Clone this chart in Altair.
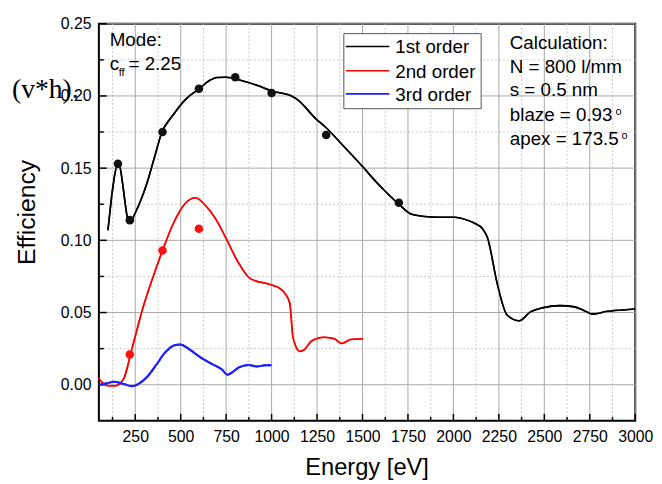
import altair as alt
import pandas as pd

FONT = "Liberation Sans"

# ---- data ----
energy_1st = [100, 157, 218, 250, 312, 357, 394, 457, 530, 602, 656, 700, 750, 838, 928, 1000,
              1109, 1137, 1245, 1300, 1390, 1508, 1571, 1625, 1700, 1770, 1843, 1915, 2006, 2076,
              2114, 2160, 2187, 2241, 2295, 2362, 2422, 2495, 2585, 2658, 2712, 2766, 2839, 2929, 3000]
eff_1st = [0.107, 0.153, 0.112, 0.119, 0.1386, 0.158, 0.174, 0.1866, 0.198, 0.205, 0.2105, 0.2128,
           0.213, 0.2105, 0.207, 0.2035, 0.200, 0.198, 0.184, 0.178, 0.166, 0.150, 0.141, 0.134,
           0.125, 0.118, 0.1165, 0.116, 0.116, 0.114, 0.112, 0.108, 0.102, 0.070, 0.0484, 0.0443,
           0.0503, 0.0534, 0.0548, 0.0541, 0.0518, 0.0489, 0.0507, 0.0518, 0.0525]

energy_2nd = [50, 68, 104, 141, 186, 231, 294, 367, 403, 457, 521, 580, 638, 693, 747, 811, 883,
              992, 1046, 1073, 1100, 1118, 1155, 1182, 1218, 1290, 1345, 1386, 1435, 1504]
eff_2nd = [0.0044, 0.0016, -0.0007, -0.0007, 0.004, 0.0245, 0.054, 0.0815, 0.094, 0.111, 0.125,
           0.1295, 0.124, 0.1147, 0.102, 0.086, 0.0735, 0.0694, 0.0667, 0.0633, 0.0564, 0.0325,
           0.0231, 0.0245, 0.0301, 0.0329, 0.0318, 0.0286, 0.0313, 0.0318]

energy_3rd = [50, 95, 131, 186, 231, 267, 312, 367, 412, 466, 497, 548, 611, 675, 729, 756, 783,
              820, 874, 919, 965, 1000]
eff_3rd = [0.0, 0.001, 0.002, 0.0005, -0.001, 0.0005, 0.005, 0.014, 0.022, 0.0274, 0.0279, 0.0245,
           0.0188, 0.0142, 0.0103, 0.0069, 0.0085, 0.012, 0.0137, 0.0126, 0.0135, 0.0135]

meas_1st_E = [155, 220, 400, 600, 800, 1000, 1300, 1700]
meas_1st_v = [0.153, 0.114, 0.175, 0.205, 0.213, 0.202, 0.173, 0.126]
meas_2nd_E = [220, 400, 600]
meas_2nd_v = [0.021, 0.093, 0.108]

series_names = ["1st order", "2nd order", "3rd order"]
series_colors = ["#000000", "#ff0000", "#1f1fff"]

x_major = [250, 500, 750, 1000, 1250, 1500, 1750, 2000, 2250, 2500, 2750, 3000]
x_minor = [125, 375, 625, 875, 1125, 1375, 1625, 1875, 2125, 2375, 2625, 2875]
y_major = [0.0, 0.05, 0.10, 0.15, 0.20, 0.25]
y_minor = [0.025, 0.075, 0.125, 0.175, 0.225]

W, H = 543, 402
X_DOM = [50, 3000]
Y_DOM = [-0.025, 0.25]

xs = alt.Scale(domain=X_DOM, nice=False, zero=False)
ys = alt.Scale(domain=Y_DOM, nice=False, zero=False)

x_axis = alt.Axis(values=x_major, format="d", grid=False, ticks=False, tickSize=0, domain=False,
                  labelFont=FONT, labelFontSize=16, labelPadding=8, labelColor="black",
                  labelOverlap=False, labelFlush=False, title=None)
y_axis = alt.Axis(values=y_major, format=".2f", grid=False, ticks=False, tickSize=0, domain=False,
                  labelFont=FONT, labelFontSize=16, labelPadding=8, labelColor="black",
                  labelOverlap=False, labelFlush=False, title=None)

df1 = pd.DataFrame({"E": energy_1st, "v": eff_1st})
df2 = pd.DataFrame({"E": energy_2nd, "v": eff_2nd})
df3 = pd.DataFrame({"E": energy_3rd, "v": eff_3rd})
dm1 = pd.DataFrame({"E": meas_1st_E, "v": meas_1st_v})
dm2 = pd.DataFrame({"E": meas_2nd_E, "v": meas_2nd_v})
dxM = pd.DataFrame({"E": x_major})
dxm = pd.DataFrame({"E": x_minor})
dyM = pd.DataFrame({"v": y_major})
dym = pd.DataFrame({"v": y_minor})


def single():
    return alt.InlineData(values=[{"k": 1}])


def X():
    return alt.X("E:Q", scale=xs, axis=x_axis)


def Y():
    return alt.Y("v:Q", scale=ys, axis=y_axis)


layers = [
    # curves
    alt.Chart(df1).mark_line(color=series_colors[0], strokeWidth=1.6,
                             interpolate="monotone").encode(x=X(), y=Y()),
    alt.Chart(df2).mark_line(color=series_colors[1], strokeWidth=1.6,
                             interpolate="monotone").encode(x=X(), y=Y()),
    alt.Chart(df3).mark_line(color=series_colors[2], strokeWidth=2,
                             interpolate="monotone").encode(x=X(), y=Y()),
    # minor dotted grid
    alt.Chart(dxm).mark_rule(color="#c8c8c8", strokeWidth=1, strokeDash=[2, 2]).encode(x=X()),
    alt.Chart(dym).mark_rule(color="#c8c8c8", strokeWidth=1, strokeDash=[2, 2]).encode(y=Y()),
    # major solid grid
    alt.Chart(dxM).mark_rule(color="#a8a8a8", strokeWidth=1).encode(x=X()),
    alt.Chart(dyM).mark_rule(color="#a8a8a8", strokeWidth=1).encode(y=Y()),
    # inward ticks
    alt.Chart(dxM).mark_rule(color="black", strokeWidth=1.5).encode(
        x=X(), y=alt.value(H), y2=alt.value(H - 7)),
    alt.Chart(dxm).mark_rule(color="black", strokeWidth=1.5).encode(
        x=X(), y=alt.value(H), y2=alt.value(H - 4)),
    alt.Chart(dyM).mark_rule(color="black", strokeWidth=1.5).encode(
        y=Y(), x=alt.value(0), x2=alt.value(8)),
    alt.Chart(dym).mark_rule(color="black", strokeWidth=1.5).encode(
        y=Y(), x=alt.value(0), x2=alt.value(5)),
    # curves redrawn on top of the grid
    alt.Chart(df1).mark_line(color=series_colors[0], strokeWidth=1.6,
                             interpolate="monotone").encode(x=X(), y=Y()),
    alt.Chart(df2).mark_line(color=series_colors[1], strokeWidth=1.6,
                             interpolate="monotone").encode(x=X(), y=Y()),
    alt.Chart(df3).mark_line(color=series_colors[2], strokeWidth=2,
                             interpolate="monotone").encode(x=X(), y=Y()),
    # measured points
    alt.Chart(dm1).mark_circle(color="#111111", size=75, opacity=1).encode(x=X(), y=Y()),
    alt.Chart(dm2).mark_circle(color="#ff1010", size=75, opacity=1).encode(x=X(), y=Y()),
    # legend box
    alt.Chart(single()).mark_rect(fill="white", stroke="#555555", strokeWidth=1).encode(
        x=alt.value(248), x2=alt.value(387), y=alt.value(10), y2=alt.value(86)),
]

leg_rows = [23, 47.5, 71]
for name, col, yy in zip(series_names, series_colors, leg_rows):
    layers.append(alt.Chart(single()).mark_rule(color=col, strokeWidth=1.6).encode(
        x=alt.value(250), x2=alt.value(294), y=alt.value(yy)))
    layers.append(alt.Chart(single()).mark_text(text=name, font=FONT, fontSize=19, color="black",
                                                align="left", baseline="middle").encode(
        x=alt.value(300), y=alt.value(yy + 1)))


def txt(s, x, y, size=19, font=FONT, angle=0, align="left"):
    return alt.Chart(single()).mark_text(text=s, font=font, fontSize=size, color="black",
                                         align=align, baseline="alphabetic", angle=angle).encode(
        x=alt.value(x), y=alt.value(y))


layers += [
    txt("Mode:", 11, 23),
    txt("c", 11, 47),
    txt("ff", 20, 53, size=11),
    txt("= 2.25", 30, 47),
    txt("Calculation:", 416, 25.5),
    txt("N = 800 l/mm", 416, 49.5),
    txt("s = 0.5 nm", 416, 73.5),
    txt("blaze = 0.93", 416, 98.5),
    txt("o", 523, 92, size=11),
    txt("apex = 173.5", 416, 123),
    txt("o", 529, 117, size=11),
    txt("Energy [eV]", W / 2, H + 55, size=24, align="center"),
    txt("Efficiency", -65, 191, size=25, angle=270, align="center"),
    txt("(v*h).", -88, 75, size=28, font="Liberation Serif"),
]

chart = alt.layer(*layers).properties(
    width=W, height=H,
    autosize=alt.AutoSizeParams(type="none"),
    padding={"left": 92, "top": 13, "right": 19, "bottom": 61},
    background="white",
).configure_view(stroke="black", strokeWidth=2)

chart.save("out.html", embed_options={"renderer": "svg", "actions": False})
